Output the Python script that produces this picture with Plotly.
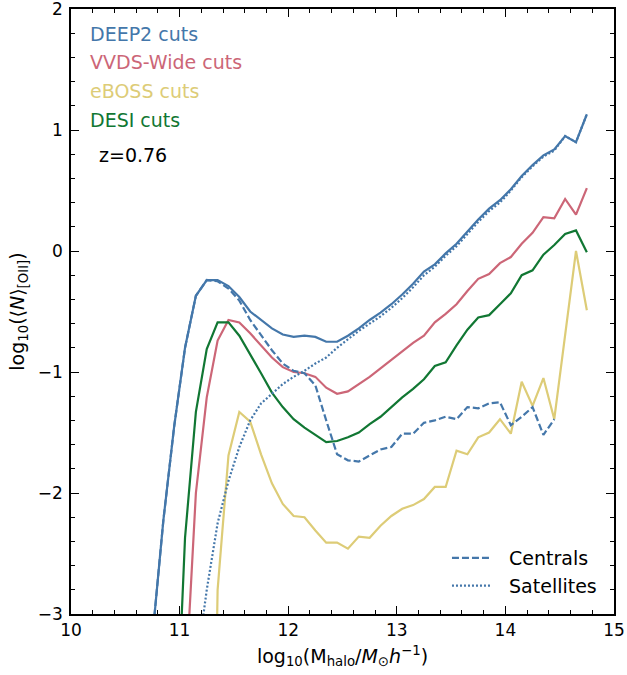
import plotly.graph_objects as go

# ---- data ----
mass_bins = [10.65, 10.75, 10.85, 10.95, 11.05, 11.15, 11.25, 11.35, 11.45, 11.55,
             11.65, 11.75, 11.85, 11.95, 12.05, 12.15, 12.25, 12.35, 12.45, 12.55,
             12.65, 12.75, 12.85, 12.95, 13.05, 13.15, 13.25, 13.35, 13.45, 13.55,
             13.65, 13.75, 13.85, 13.95, 14.05, 14.15, 14.25, 14.35, 14.45, 14.55,
             14.65, 14.75]

deep2_total = [-4.5, -3.19, -2.23, -1.45, -0.80, -0.37, -0.24, -0.24, -0.29, -0.38,
               -0.50, -0.57, -0.64, -0.69, -0.71, -0.70, -0.71, -0.75, -0.75, -0.70,
               -0.64, -0.57, -0.51, -0.44, -0.36, -0.27, -0.17, -0.11, -0.02, 0.06,
               0.16, 0.26, 0.35, 0.42, 0.51, 0.62, 0.71, 0.79, 0.84, 0.95,
               0.90, 1.13]
deep2_centrals = [-4.5, -3.19, -2.23, -1.45, -0.80, -0.37, -0.24, -0.25, -0.31, -0.41,
                  -0.57, -0.70, -0.82, -0.93, -0.99, -1.01, -1.11, -1.40, -1.68, -1.73,
                  -1.74, -1.69, -1.64, -1.62, -1.51, -1.51, -1.42, -1.40, -1.37, -1.39,
                  -1.29, -1.30, -1.26, -1.25, -1.44, -1.37, -1.29, -1.52, -1.39]
deep2_satellites = [-3.47, -2.80, -2.25, -1.90, -1.62, -1.40, -1.26, -1.18, -1.10, -1.04,
                    -0.99, -0.93, -0.88, -0.80, -0.73, -0.66, -0.60, -0.54, -0.47, -0.39,
                    -0.30, -0.20, -0.13, -0.04, 0.04, 0.14, 0.24, 0.33, 0.40, 0.50,
                    0.61, 0.70, 0.78, 0.83, 0.95, 0.90, 1.13]
vvds_total = [-3.67, -2.00, -1.21, -0.74, -0.57, -0.59, -0.68, -0.78, -0.88, -0.96,
              -1.00, -1.01, -1.04, -1.13, -1.18, -1.16, -1.10, -1.04, -0.97, -0.90,
              -0.83, -0.76, -0.70, -0.59, -0.52, -0.44, -0.33, -0.23, -0.19, -0.10,
              -0.05, 0.06, 0.15, 0.28, 0.27, 0.43, 0.30, 0.52]
desi_total = [-4.47, -2.37, -1.33, -0.81, -0.59, -0.59, -0.70, -0.85, -1.01, -1.17,
              -1.29, -1.39, -1.46, -1.52, -1.58, -1.57, -1.54, -1.50, -1.43, -1.37,
              -1.29, -1.21, -1.14, -1.06, -0.95, -0.92, -0.78, -0.65, -0.55, -0.53,
              -0.44, -0.35, -0.20, -0.16, -0.03, 0.05, 0.14, 0.17, -0.01]
eboss_total = [-8.0, -2.80, -1.69, -1.33, -1.41, -1.68, -1.92, -2.09, -2.19, -2.20,
               -2.31, -2.41, -2.41, -2.46, -2.36, -2.37, -2.27, -2.19, -2.13, -2.10,
               -2.05, -1.95, -1.95, -1.65, -1.68, -1.54, -1.50, -1.39, -1.51, -1.08,
               -1.28, -1.05, -1.39, -0.70, 0.00, -0.49]

sample_labels = ["DEEP2 cuts", "VVDS-Wide cuts", "eBOSS cuts", "DESI cuts"]
component_labels = ["Centrals", "Satellites"]
redshift_label = "z=0.76"
x_ticks = [10, 11, 12, 13, 14, 15]
y_ticks = [-3, -2, -1, 0, 1, 2]

# ---- styles ----
BLUE, PINK, YELLOW, GREEN = "#4477AA", "#CC6677", "#DDCC77", "#117733"
FONT = "DejaVu Sans"
LW = 2.2

fig = go.Figure()

fig.add_trace(go.Scatter(x=mass_bins, y=deep2_total, mode="lines",
                         line=dict(color=BLUE, width=LW), showlegend=False))
fig.add_trace(go.Scatter(x=mass_bins[4:], y=vvds_total, mode="lines",
                         line=dict(color=PINK, width=LW), showlegend=False))
fig.add_trace(go.Scatter(x=mass_bins[6:], y=eboss_total, mode="lines",
                         line=dict(color=YELLOW, width=LW), showlegend=False))
fig.add_trace(go.Scatter(x=mass_bins[3:], y=desi_total, mode="lines",
                         line=dict(color=GREEN, width=LW), showlegend=False))
fig.add_trace(go.Scatter(x=mass_bins[:39], y=deep2_centrals, mode="lines",
                         name="&nbsp;&nbsp;" + component_labels[0],
                         line=dict(color=BLUE, width=LW, dash="7px,3px")))
fig.add_trace(go.Scatter(x=mass_bins[5:], y=deep2_satellites, mode="lines",
                         name="&nbsp;&nbsp;" + component_labels[1],
                         line=dict(color=BLUE, width=LW, dash="2px,2px")))

colors = [BLUE, PINK, YELLOW, GREEN]
ys = [1.795, 1.565, 1.325, 1.085]
for lab, col, yy in zip(sample_labels, colors, ys):
    fig.add_annotation(x=10.157, y=yy, xref="x", yref="y", text=lab, showarrow=False,
                       xanchor="left", yanchor="middle", font=dict(family=FONT, size=19, color=col))
fig.add_annotation(x=10.24, y=0.795, xref="x", yref="y", text=redshift_label, showarrow=False,
                   xanchor="left", yanchor="middle", font=dict(family=FONT, size=19, color="black"))

axis_common = dict(showline=True, linecolor="black", linewidth=1.6, mirror="allticks",
                   ticks="inside", ticklen=8, tickwidth=1.4, tickcolor="black",
                   showgrid=False, zeroline=False, automargin=False,
                   ticklabeloverflow="allow",
                   tickfont=dict(family=FONT, size=17, color="black"),
                   minor=dict(ticks="inside", ticklen=4, tickwidth=1.2, tickcolor="black", dtick=0.2))

fig.update_xaxes(range=[10, 15], tickvals=x_ticks,
                 title=dict(text="log<sub>10</sub>(M<sub>halo</sub>/<i>M</i><sub>⊙</sub><i>h</i><sup>−1</sup>)",
                            font=dict(family=FONT, size=19, color="black"), standoff=10),
                 **axis_common)
fig.update_yaxes(range=[-3, 2], tickvals=y_ticks, ticklabelstandoff=3,
                 title=dict(text="log<sub>10</sub>(⟨<i>N</i>⟩<sub>[OII]</sub>)",
                            font=dict(family=FONT, size=19, color="black"), standoff=8),
                 **axis_common)

fig.update_layout(width=627, height=675, margin=dict(l=71, r=13, t=9, b=61),
                  plot_bgcolor="white", paper_bgcolor="white",
                  font=dict(family=FONT, color="black"),
                  legend=dict(x=0.6924, y=0.124, xanchor="left", yanchor="top",
                              bgcolor="rgba(0,0,0,0)", itemwidth=40,
                              font=dict(family=FONT, size=19, color="black"),
                              tracegroupgap=0))

fig.write_html("out.html", config={"displayModeBar": False},
               post_script="document.body.style.margin='0px';document.body.style.overflow='hidden';")
